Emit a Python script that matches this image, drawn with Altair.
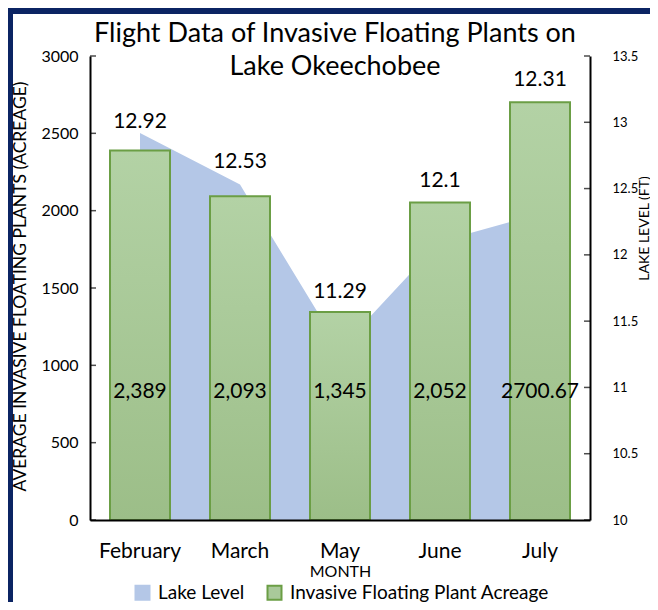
import altair as alt
import pandas as pd

months = ["February", "March", "May", "June", "July"]
acreage = [2389, 2093, 1345, 2052, 2700.67]
acreage_labels = ["2,389", "2,093", "1,345", "2,052", "2700.67"]
lake_level = [12.92, 12.53, 11.29, 12.1, 12.31]
lake_labels = ["12.92", "12.53", "11.29", "12.1", "12.31"]
lake_label_at = [13.00, 12.70, 11.72, 12.56, 13.32]
acreage_label_at = [830, 830, 830, 830, 830]
left_ticks = [0, 500, 1000, 1500, 2000, 2500, 3000]
right_ticks = [10, 10.5, 11, 11.5, 12, 12.5, 13, 13.5]
series = ["Lake Level", "Invasive Floating Plant Acreage"]
title_lines = ["Flight Data of Invasive Floating Plants on", "Lake Okeechobee"]

FONT = "Lato"
NAVY = "#0B2463"
BLUE = "#B4C7E7"
GREEN = "#A9C99A"
GREEN_EDGE = "#6B9E45"

df_area = pd.DataFrame({
    "month": months, "lake": lake_level, "label": lake_labels,
    "label_at": lake_label_at, "series": series[0],
})
df_bar = pd.DataFrame({
    "month": months, "acreage": acreage, "label": acreage_labels,
    "label_at": acreage_label_at, "series": series[1],
})
df_lticks = pd.DataFrame({"v": left_ticks})
df_rticks = pd.DataFrame({"v": right_ticks})
one = pd.DataFrame({"k": [0]})

fill_scale = alt.Scale(domain=series, range=[BLUE, GREEN])
stroke_scale = alt.Scale(domain=series, range=[BLUE, GREEN_EDGE])
legend = alt.Legend(
    orient="none", legendX=43, legendY=527, direction="horizontal", title=None,
    symbolType="square", symbolSize=196, symbolStrokeWidth=2, labelFontSize=19,
    labelFont=FONT, labelColor="black", columnPadding=18, labelOffset=6,
    labelLimit=400, padding=0, zindex=2,
)

bar_gradient = alt.Gradient(
    gradient="linear", x1=0, x2=0, y1=0, y2=1,
    stops=[alt.GradientStop(color="#B3D2A5", offset=0),
           alt.GradientStop(color="#9CBE88", offset=1)],
)

left_scale = alt.Scale(domain=[0, 3000], nice=False)
right_scale = alt.Scale(domain=[10, 13.5], nice=False, zero=False)

x_enc = alt.X(
    "month:N", sort=months,
    scale=alt.Scale(paddingInner=0.4, paddingOuter=0.2),
    axis=alt.Axis(
        title="MONTH", labelAngle=0, labelFontSize=21, labelPadding=20, ticks=False,
        titleFontSize=16, titlePadding=2, zindex=2,
    ),
)
x_plain = alt.X("month:N", sort=months)

frame = alt.Chart(one).mark_rect(fill="white").encode(
    x=alt.value(-77), x2=alt.value(570), y=alt.value(-42), y2=alt.value(560)
)

title = alt.Chart(one).mark_text(
    text=title_lines, fontSize=27, font=FONT, color="black", align="center",
    baseline="alphabetic", lineHeight=33,
).encode(x=alt.value(245), y=alt.value(-14))

area = alt.Chart(df_area).mark_area(strokeWidth=0).encode(
    x=x_enc,
    y=alt.Y(
        "lake:Q", scale=right_scale,
        axis=alt.Axis(
            orient="right", values=right_ticks, format="~g", title="LAKE LEVEL (FT)",
            ticks=False, labelPadding=22, labelFontSize=13, titleFontSize=14,
            titleAngle=-90, titleX=54, titleY=172, titleAlign="center",
            titleBaseline="middle", zindex=2,
        ),
    ),
    y2=alt.datum(10),
    fill=alt.Fill("series:N", scale=fill_scale, legend=legend),
    stroke=alt.Stroke("series:N", scale=stroke_scale, legend=legend),
)

bars = alt.Chart(df_bar).mark_bar(strokeWidth=2, fill=bar_gradient).encode(
    x=x_plain,
    y=alt.Y(
        "acreage:Q", scale=left_scale,
        axis=alt.Axis(
            orient="left", values=left_ticks, format="d", ticks=False, labelPadding=12,
            labelFontSize=16, title="AVERAGE INVASIVE FLOATING PLANTS (ACREAGE)",
            titleFontSize=17.5, titleAngle=-90, titleX=-70, titleY=230,
            titleAlign="center", titleBaseline="middle", zindex=2,
        ),
    ),
    stroke=alt.Stroke("series:N", scale=stroke_scale, legend=legend),
)

lticks = alt.Chart(df_lticks).mark_tick(
    orient="horizontal", size=6, thickness=1.5, color="black"
).encode(y=alt.Y("v:Q", scale=left_scale, axis=None), x=alt.value(3))

rticks = alt.Chart(df_rticks).mark_tick(
    orient="horizontal", size=6, thickness=1.5, color="black"
).encode(y=alt.Y("v:Q", scale=right_scale, axis=None), x=alt.value(497))

lake_text = alt.Chart(df_area).mark_text(fontSize=21, font=FONT, color="black").encode(
    x=x_plain,
    y=alt.Y("label_at:Q", scale=right_scale, axis=None),
    text="label:N",
)

bar_text = alt.Chart(df_bar).mark_text(fontSize=21, font=FONT, color="black").encode(
    x=x_plain,
    y=alt.Y("label_at:Q", scale=left_scale, axis=None),
    text="label:N",
)

chart = alt.layer(
    frame, area, bars, lticks, rticks, lake_text, bar_text, title
).resolve_scale(y="independent").properties(
    width=500, height=464,
    autosize=alt.AutoSizeParams(type="none"),
    padding={"left": 82, "top": 48, "right": 60, "bottom": 82},
    background=NAVY,
).configure_axis(
    labelFont=FONT, titleFont=FONT, labelColor="black", titleColor="black",
    titleFontWeight="normal", domainColor="black", domainWidth=2, grid=False,
).configure_view(stroke=None)

chart.save("out.html", embed_options={"renderer": "svg", "actions": False})
